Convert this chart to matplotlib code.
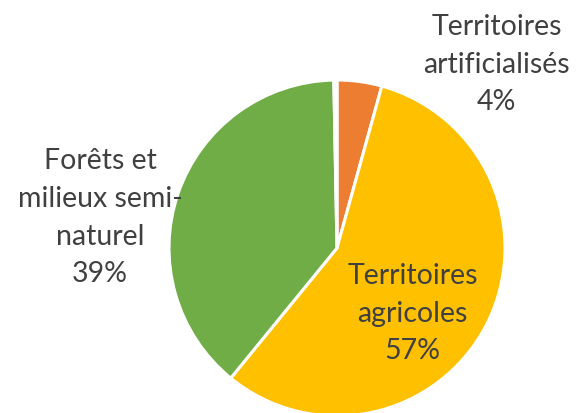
import matplotlib
matplotlib.use("Agg")
import matplotlib.pyplot as plt

# land-cover shares (%), clockwise from the top
names = ["Territoires\nartificialisés", "Territoires\nagricoles",
         "Forêts et\nmilieux semi-\nnaturel", ""]
values = [4.3, 56.6, 38.8, 0.3]
colors = ["#ED7D31", "#FFC000", "#70AD47", "#FFFFFF"]
# label centres in pie-radius units
label_pos = [(0.95, 1.09), (0.45, -0.39), (-1.41, 0.18), None]

total = sum(values)

fig = plt.figure(figsize=(5.77, 4.13), dpi=100)
ax = fig.add_axes([0, 0, 1, 1])
ax.pie(values, colors=colors, startangle=90, counterclock=False,
       radius=1.0, wedgeprops=dict(edgecolor="white", linewidth=2.2))

for name, v, pos in zip(names, values, label_pos):
    if pos is None:
        continue
    ax.text(pos[0], pos[1], f"{name}\n{round(v / total * 100):.0f}%",
            ha="center", va="center", fontsize=20.5, color="#404040",
            family=["Lato", "DejaVu Sans"], linespacing=1.55)

ax.set_xlim(-337 / 168, (577 - 337) / 168)
ax.set_ylim(-165 / 168, 248 / 168)
ax.set_aspect("equal")
ax.axis("off")

fig.savefig("out.png", dpi=100)
